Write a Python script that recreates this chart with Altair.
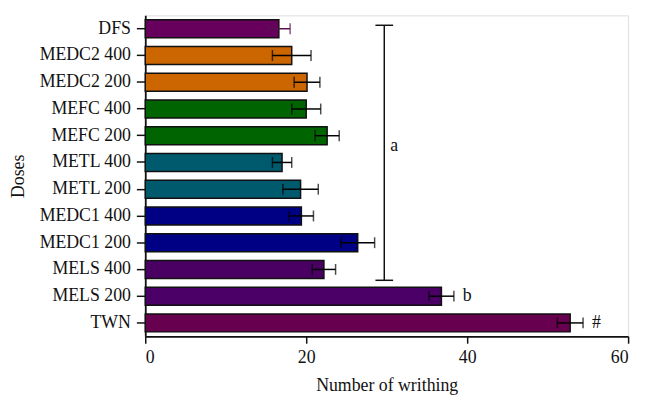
import altair as alt
import pandas as pd

doses = ["DFS", "MEDC2 400", "MEDC2 200", "MEFC 400", "MEFC 200", "METL 400",
         "METL 200", "MEDC1 400", "MEDC1 200", "MELS 400", "MELS 200", "TWN"]
means = [16.6, 18.2, 20.1, 20.0, 22.6, 17.0, 19.3, 19.4, 26.4, 22.2, 36.8, 52.8]
errs = [1.4, 2.4, 1.6, 1.8, 1.5, 1.2, 2.2, 1.5, 2.1, 1.45, 1.55, 1.6]
colors = ["#66005c", "#cc6600", "#cc6600", "#006400", "#006400", "#005a6e",
          "#005a6e", "#000085", "#000085", "#4a0062", "#4a0066", "#66004f"]
err_colors = ["#5a1050"] + ["#000000"] * 11
marks = ["", "", "", "", "", "", "", "", "", "", "b", "#"]

df = pd.DataFrame({
    "dose": doses, "mean": means, "err": errs, "color": colors,
    "ecolor": err_colors, "mark": marks,
})
df["lo"] = df["mean"] - df["err"]
df["hi"] = df["mean"] + df["err"]

FONT = "Liberation Serif"
FS = 18
yscale = alt.Scale(domain=doses, paddingInner=0.33, paddingOuter=0.165)
yaxis = alt.Axis(title="Doses", titleFont=FONT, titleFontSize=FS,
                 titleFontWeight="normal", titleColor="#111",
                 labelFont=FONT, labelFontSize=FS, labelColor="#111",
                 tickSize=9, tickWidth=1.5, tickColor="#111",
                 domainColor="#111", domainWidth=1.8, labelPadding=6,
                 titlePadding=12)
xscale = alt.Scale(domain=[0, 60], nice=False)


def Y(field):
    return alt.Y(field, type="nominal", scale=yscale, sort=None)


bars = alt.Chart(df).mark_bar(stroke="#111", strokeWidth=1.5).encode(
    x=alt.X("mean:Q", scale=xscale,
            axis=alt.Axis(title="Number of writhing", values=[0, 20, 40, 60],
                          titleFont=FONT, titleFontSize=FS, titleFontWeight="normal",
                          titleColor="#111", labelFont=FONT, labelFontSize=FS,
                          labelColor="#111", tickSize=7, tickWidth=1.5,
                          tickColor="#111", domainColor="#111", domainWidth=1.8,
                          grid=False, titlePadding=10, labelPadding=6)),
    y=alt.Y("dose:N", scale=yscale, sort=None, axis=yaxis),
    color=alt.Color("color:N", scale=None),
)

err_rule = alt.Chart(df).mark_rule(strokeWidth=1.5).encode(
    x=alt.X("lo:Q", scale=xscale), x2="hi:Q", y=Y("dose"),
    color=alt.Color("ecolor:N", scale=None),
)
cap_lo = alt.Chart(df).mark_tick(thickness=1.5, size=11).encode(
    x=alt.X("lo:Q", scale=xscale), y=Y("dose"),
    color=alt.Color("ecolor:N", scale=None),
)
cap_hi = alt.Chart(df).mark_tick(thickness=1.5, size=11).encode(
    x=alt.X("hi:Q", scale=xscale), y=Y("dose"),
    color=alt.Color("ecolor:N", scale=None),
)
labels = alt.Chart(df).mark_text(font=FONT, fontSize=FS, align="left", dx=9,
                                 color="#111").encode(
    x=alt.X("hi:Q", scale=xscale), y=Y("dose"), text="mark:N",
)

# significance bracket "a"
br_x = [29.7]
br_x1 = [28.6]
br_x2 = [30.8]
br_top = ["DFS"]
br_bot = ["MELS 400"]
bdf = pd.DataFrame({"x": br_x, "x1": br_x1, "x2": br_x2, "top": br_top,
                    "bot": br_bot, "mid": ["MEFC 200"], "lab": ["a"]})
br_line = alt.Chart(bdf).mark_rule(color="#111", strokeWidth=1.5, yOffset=-3.5,
                                   y2Offset=11).encode(
    x=alt.X("x:Q", scale=xscale), y=Y("top"), y2="bot:N",
)
br_cap1 = alt.Chart(bdf).mark_rule(color="#111", strokeWidth=1.5, yOffset=-3.5).encode(
    x=alt.X("x1:Q", scale=xscale), x2="x2:Q", y=Y("top"),
)
br_cap2 = alt.Chart(bdf).mark_rule(color="#111", strokeWidth=1.5, yOffset=11).encode(
    x=alt.X("x1:Q", scale=xscale), x2="x2:Q", y=Y("bot"),
)
br_text = alt.Chart(bdf).mark_text(font=FONT, fontSize=FS, align="left", dx=6, dy=10,
                                   color="#111").encode(
    x=alt.X("x:Q", scale=xscale), y=Y("mid"), text="lab:N",
)

chart = alt.layer(bars, err_rule, cap_lo, cap_hi, labels,
                  br_line, br_cap1, br_cap2, br_text).properties(
    width=489, height=325,
    autosize=alt.AutoSizeParams(type="none"),
    padding={"left": 139, "top": 5, "right": 10, "bottom": 58},
).configure_view(stroke=None).configure(background="white")

chart.save("out.html", embed_options={"renderer": "svg", "actions": False})
